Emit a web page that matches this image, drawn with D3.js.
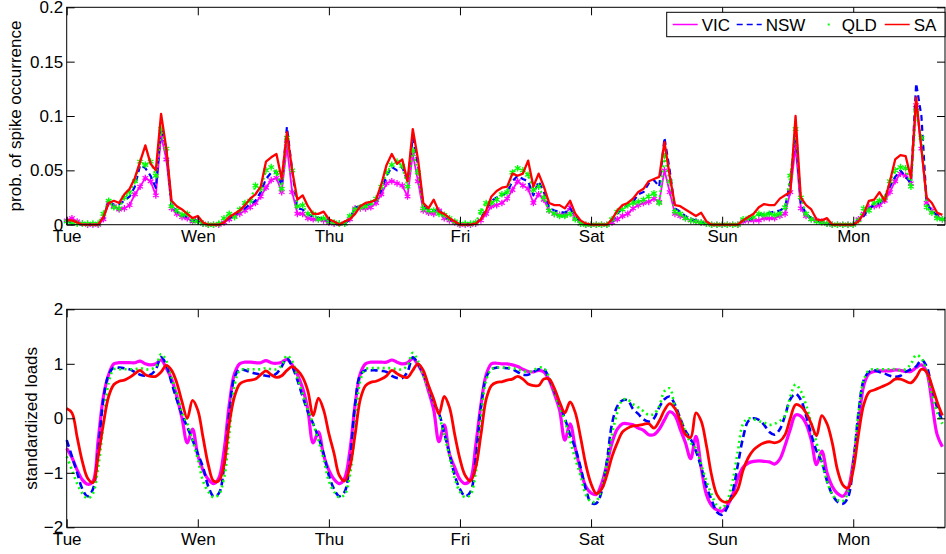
<!DOCTYPE html>
<html>
<head>
<meta charset="utf-8">
<script src="https://cdn.jsdelivr.net/npm/d3@7"></script>
<style>
  body { margin: 0; background: #fff; }
  svg text { font-family: "Liberation Sans", Arial, Helvetica, sans-serif; fill: #000; }
</style>
</head>
<body>
<svg id="chart" width="946" height="554"></svg>
<script>
// tick labels and series names
const dayLabels = ['Tue', 'Wen', 'Thu', 'Fri', 'Sat', 'Sun', 'Mon'];
const seriesNames = ['VIC', 'NSW', 'QLD', 'SA'];

// hourly readings (one line per day), probability of a price spike
const vicSpike = [
  0.004,0.006,0.003,0.001,0,0,0,0.005,0.02,0.017,0.014,0.015,0.018,0.028,0.035,0.043,0.04,0.027,0.082,0.06,0.015,0.01,0.007,0.006,
  0.003,0.004,0.001,0,0,0,0.002,0.005,0.008,0.01,0.013,0.016,0.02,0.026,0.034,0.041,0.043,0.03,0.072,0.03,0.01,0.01,0.006,0.005,
  0.005,0.004,0.002,0.001,0.001,0.001,0.005,0.015,0.015,0.015,0.016,0.02,0.028,0.038,0.04,0.038,0.036,0.026,0.065,0.04,0.013,0.011,0.01,0.013,
  0.006,0.004,0.002,0,0,0,0.001,0.004,0.01,0.017,0.018,0.02,0.024,0.032,0.04,0.036,0.033,0.02,0.028,0.023,0.013,0.01,0.009,0.009,
  0.016,0.006,0.001,0,0,0,0,0,0.002,0.005,0.008,0.01,0.015,0.018,0.02,0.021,0.024,0.021,0.05,0.03,0.01,0.008,0.006,0.004,
  0.003,0.002,0.001,0,0,0,0,0,0,0.003,0.004,0.004,0.004,0.006,0.006,0.006,0.008,0.01,0.03,0.072,0.015,0.008,0.005,0.004,
  0.003,0.001,0,0,0,0,0,0.005,0.01,0.016,0.017,0.018,0.022,0.03,0.04,0.047,0.045,0.038,0.11,0.07,0.02,0.013,0.008,0.005
];
const nswSpike = [
  0.002,0.003,0.001,0,0,0,0,0.006,0.022,0.018,0.019,0.022,0.026,0.035,0.055,0.052,0.045,0.034,0.09,0.07,0.018,0.012,0.009,0.007,
  0.004,0.005,0.001,0,0,0,0.002,0.006,0.009,0.012,0.015,0.019,0.022,0.03,0.042,0.048,0.049,0.036,0.09,0.05,0.015,0.014,0.01,0.007,
  0.006,0.006,0.003,0.001,0,0.001,0.005,0.016,0.017,0.018,0.019,0.022,0.032,0.045,0.053,0.05,0.053,0.04,0.08,0.055,0.018,0.013,0.013,0.015,
  0.007,0.005,0.002,0,0,0,0.001,0.006,0.014,0.022,0.025,0.027,0.03,0.04,0.045,0.042,0.04,0.027,0.04,0.03,0.016,0.013,0.012,0.011,
  0.015,0.007,0.002,0,0,0,0,0,0.003,0.01,0.015,0.018,0.021,0.028,0.03,0.038,0.041,0.035,0.08,0.05,0.015,0.012,0.008,0.005,
  0.004,0.003,0.001,0,0,0,0,0,0,0.004,0.004,0.007,0.009,0.01,0.011,0.012,0.013,0.016,0.04,0.085,0.02,0.01,0.006,0.004,
  0.003,0.001,0,0,0,0,0,0.004,0.008,0.015,0.018,0.02,0.025,0.035,0.044,0.05,0.044,0.038,0.13,0.1,0.02,0.012,0.009,0.006
];
const qldSpike = [
  0.003,0.002,0.001,0.001,0.001,0.001,0.001,0.01,0.022,0.016,0.015,0.025,0.03,0.04,0.058,0.055,0.058,0.045,0.088,0.07,0.017,0.013,0.009,0.01,
  0.004,0.003,0.001,0,0,0.001,0.006,0.01,0.007,0.014,0.02,0.022,0.036,0.033,0.05,0.053,0.048,0.033,0.08,0.05,0.017,0.018,0.01,0.01,
  0.005,0.006,0.003,0.002,0.001,0.001,0.008,0.014,0.016,0.017,0.02,0.024,0.035,0.048,0.055,0.058,0.054,0.035,0.068,0.048,0.015,0.013,0.013,0.01,
  0.009,0.006,0.003,0.001,0.001,0.001,0.002,0.012,0.02,0.02,0.023,0.028,0.03,0.048,0.052,0.05,0.046,0.032,0.035,0.025,0.013,0.01,0.008,0.008,
  0.01,0.005,0.001,0,0,0,0,0,0.005,0.012,0.014,0.018,0.02,0.021,0.023,0.026,0.029,0.02,0.063,0.04,0.012,0.01,0.006,0.004,
  0.003,0.002,0.001,0,0,0,0,0,0,0.005,0.006,0.007,0.01,0.009,0.01,0.009,0.01,0.016,0.045,0.088,0.025,0.01,0.005,0.003,
  0.002,0.001,0,0,0,0,0,0.004,0.015,0.013,0.02,0.022,0.025,0.04,0.05,0.053,0.052,0.035,0.105,0.08,0.016,0.011,0.006,0.005
];
const saSpike = [
  0.004,0.004,0.002,0,0,0,0,0.007,0.02,0.022,0.02,0.028,0.033,0.043,0.058,0.073,0.056,0.05,0.102,0.07,0.022,0.017,0.014,0.01,
  0.006,0.008,0.002,0,0,0,0.002,0.007,0.01,0.013,0.018,0.024,0.028,0.035,0.058,0.062,0.065,0.042,0.085,0.05,0.023,0.027,0.017,0.01,
  0.01,0.012,0.005,0.003,0,0.003,0.005,0.01,0.017,0.02,0.021,0.023,0.037,0.055,0.065,0.056,0.06,0.04,0.088,0.06,0.02,0.015,0.023,0.012,
  0.01,0.006,0.003,0,0,0,0.001,0.005,0.013,0.026,0.031,0.034,0.035,0.047,0.045,0.047,0.059,0.035,0.047,0.035,0.02,0.018,0.018,0.015,
  0.022,0.01,0.004,0.001,0,0,0,0,0.005,0.013,0.018,0.02,0.024,0.03,0.033,0.04,0.042,0.044,0.076,0.045,0.018,0.017,0.014,0.011,
  0.008,0.011,0.003,0,0,0,0,0,0,0.004,0.007,0.01,0.016,0.019,0.018,0.018,0.024,0.027,0.03,0.1,0.025,0.018,0.014,0.005,
  0.004,0.006,0,0,0,0,0,0.003,0.01,0.022,0.023,0.03,0.022,0.04,0.06,0.064,0.063,0.043,0.117,0.07,0.025,0.02,0.011,0.009
];

// hourly standardized loads
const vicLoad = [
  -0.55,-0.72,-0.95,-1.13,-1.21,-1.16,-0.4,0.4,0.8,1.0,1.02,1.02,1.02,1.02,1.05,1.0,0.98,1.0,1.07,0.92,0.72,0.4,0.0,-0.45,
  -0.2,-0.68,-0.95,-1.12,-1.2,-1.1,-0.6,0.25,0.82,1.0,1.03,1.03,1.02,1.02,1.06,1.02,1.01,1.03,1.08,0.98,0.8,0.55,0.15,-0.45,
  -0.25,-0.68,-0.95,-1.12,-1.2,-1.1,-0.6,0.25,0.82,1.0,1.03,1.03,1.03,1.03,1.07,1.03,1.0,1.02,1.1,0.98,0.8,0.5,0.15,-0.43,
  -0.12,-0.66,-0.9,-1.12,-1.2,-1.12,-0.5,0.25,0.8,1.0,1.01,1.0,1.0,0.98,0.95,0.9,0.86,0.85,0.88,0.85,0.7,0.45,0.15,-0.4,
  -0.1,-0.55,-0.95,-1.25,-1.37,-1.4,-1.2,-0.85,-0.45,-0.2,-0.1,-0.1,-0.12,-0.18,-0.22,-0.3,-0.3,-0.2,-0.03,0.12,0.05,-0.2,-0.45,-0.74,
  -0.33,-0.9,-1.4,-1.6,-1.68,-1.7,-1.6,-1.4,-1.1,-0.9,-0.82,-0.79,-0.78,-0.79,-0.8,-0.84,-0.75,-0.5,-0.2,0.06,0.04,-0.1,-0.4,-0.85,
  -0.6,-1.0,-1.25,-1.38,-1.43,-1.3,-0.8,-0.1,0.6,0.82,0.86,0.87,0.87,0.87,0.89,0.88,0.86,0.86,0.93,0.98,0.85,0.3,-0.3,-0.52
];
const nswLoad = [
  -0.4,-0.7,-1.0,-1.3,-1.43,-1.3,-0.6,0.35,0.8,0.93,0.93,0.92,0.9,0.85,0.8,0.78,0.8,0.9,1.12,0.98,0.65,0.34,0.06,-0.16,
  -0.4,-0.65,-0.9,-1.25,-1.43,-1.38,-0.9,0.1,0.75,0.9,0.88,0.85,0.82,0.8,0.78,0.77,0.82,0.95,1.1,0.95,0.7,0.4,0.12,-0.1,
  -0.35,-0.65,-1.05,-1.3,-1.43,-1.35,-0.8,0.25,0.8,0.88,0.88,0.88,0.87,0.85,0.78,0.74,0.74,0.85,1.12,1.0,0.82,0.58,0.28,0.09,
  -0.27,-0.65,-1.05,-1.3,-1.43,-1.35,-0.75,0.2,0.75,0.9,0.93,0.93,0.92,0.9,0.85,0.8,0.8,0.85,0.9,0.9,0.73,0.5,0.25,0.0,
  -0.3,-0.55,-0.9,-1.3,-1.55,-1.56,-1.35,-0.8,-0.1,0.22,0.33,0.33,0.17,0.08,-0.02,-0.06,0.0,0.2,0.35,0.4,0.25,0.0,-0.23,-0.38,
  -0.6,-0.9,-1.25,-1.5,-1.72,-1.77,-1.63,-1.35,-0.85,-0.35,-0.05,0.0,-0.03,-0.12,-0.25,-0.3,-0.2,0.05,0.35,0.45,0.34,0.05,-0.3,-0.6,
  -0.8,-1.15,-1.4,-1.53,-1.57,-1.45,-0.85,0.1,0.7,0.85,0.88,0.85,0.82,0.78,0.76,0.78,0.85,0.9,0.95,1.07,0.95,0.55,0.2,-0.05
];
const qldLoad = [
  -0.7,-0.95,-1.2,-1.38,-1.47,-1.38,-0.9,-0.1,0.65,0.9,0.9,0.9,0.9,0.9,0.92,0.9,0.9,0.95,1.18,1.05,0.75,0.45,0.1,-0.1,
  -0.4,-0.75,-1.15,-1.35,-1.45,-1.4,-1.1,-0.3,0.6,0.88,0.9,0.9,0.9,0.9,0.92,0.9,0.9,0.97,1.15,1.05,0.75,0.45,0.15,-0.1,
  -0.4,-0.75,-1.15,-1.35,-1.45,-1.4,-1.05,-0.2,0.7,0.9,0.92,0.92,0.92,0.92,0.92,0.9,0.9,0.97,1.2,1.05,0.8,0.55,0.3,0.05,
  -0.3,-0.7,-1.1,-1.35,-1.45,-1.4,-1.0,0.0,0.7,0.9,0.93,0.93,0.93,0.92,0.9,0.87,0.85,0.88,0.93,0.92,0.75,0.5,0.2,-0.05,
  -0.4,-0.75,-1.05,-1.4,-1.53,-1.52,-1.3,-0.85,-0.3,0.1,0.34,0.34,0.26,0.2,0.13,0.06,0.08,0.22,0.5,0.55,0.21,0.0,-0.25,-0.45,
  -0.55,-0.85,-1.15,-1.4,-1.6,-1.65,-1.5,-1.15,-0.6,-0.1,0.0,-0.02,-0.05,-0.08,-0.12,-0.1,-0.05,0.05,0.4,0.62,0.5,0.25,-0.1,-0.45,
  -0.8,-1.15,-1.4,-1.5,-1.52,-1.35,-0.85,0.1,0.7,0.88,0.9,0.9,0.9,0.9,0.9,0.88,0.9,1.0,1.16,1.1,0.85,0.45,0.1,-0.1
];
const saLoad = [
  0.18,0.1,-0.35,-0.8,-1.1,-1.18,-0.7,-0.1,0.4,0.62,0.68,0.7,0.75,0.82,0.88,0.8,0.77,0.77,0.85,0.97,0.88,0.65,0.3,0.0,
  0.33,0.15,-0.35,-0.85,-1.15,-1.15,-0.85,-0.1,0.4,0.63,0.68,0.7,0.72,0.8,0.87,0.8,0.75,0.78,0.88,0.95,0.88,0.75,0.5,0.05,
  0.37,0.15,-0.28,-0.65,-1.05,-1.15,-0.9,-0.3,0.35,0.6,0.66,0.68,0.72,0.78,0.88,0.82,0.77,0.75,0.88,1.0,0.88,0.6,0.35,0.08,
  0.4,0.2,-0.3,-0.75,-1.05,-1.15,-0.9,-0.3,0.35,0.6,0.66,0.67,0.7,0.72,0.77,0.72,0.63,0.6,0.6,0.72,0.72,0.55,0.3,0.1,
  0.3,0.1,-0.35,-0.85,-1.2,-1.38,-1.3,-1.05,-0.7,-0.45,-0.25,-0.18,-0.14,-0.13,-0.11,-0.1,-0.18,-0.05,0.15,0.27,0.18,-0.05,-0.3,-0.35,
  0.1,-0.05,-0.5,-1.05,-1.4,-1.52,-1.54,-1.45,-1.3,-0.95,-0.72,-0.58,-0.5,-0.45,-0.43,-0.45,-0.42,-0.3,0.0,0.25,0.22,0.1,-0.1,-0.32,
  0.05,-0.1,-0.45,-0.95,-1.22,-1.28,-0.95,-0.3,0.25,0.48,0.52,0.56,0.6,0.65,0.72,0.72,0.68,0.65,0.75,0.9,0.85,0.6,0.3,0.05
];

const spikeTicks = [0, 0.05, 0.1, 0.15, 0.2];
const loadTicks = [-2, -1, 0, 1, 2];

const svg = d3.select('#chart');
const left = 66.7, right = 945;
const colors = ['#ff00ff', '#0000ff', '#00ff00', '#ff0000'];
const fontSize = 17;

// x runs over half-hour samples 1..336; ticks every 50 samples
const x = d3.scaleLinear().domain([1, 336]).range([left, right]);
const hourIdx = k => 2 * k + 1;
const tickIdx = dayLabels.map((d, i) => 1 + 50 * i);

function drawPanel(cfg) {
  const y = d3.scaleLinear().domain(cfg.domain).range([cfg.bottom, cfg.top]);
  const g = svg.append('g');

  const line = d3.line()
    .x((d, k) => x(hourIdx(k)))
    .y(d => y(d))
    .curve(cfg.curve);

  cfg.series.forEach((vals, i) => {
    const st = cfg.styles[i];
    g.append('path')
      .datum(vals)
      .attr('d', line)
      .attr('fill', 'none')
      .attr('stroke', colors[i])
      .attr('stroke-width', st.w)
      .attr('stroke-dasharray', st.dash || null)
      .attr('stroke-linejoin', 'round');
    if (st.marker) {
      g.append('g').selectAll('path')
        .data(vals)
        .join('path')
        .attr('transform', (d, k) => `translate(${x(hourIdx(k))},${y(d)})`)
        .attr('d', d3.symbol(d3.symbolAsterisk, st.marker))
        .attr('fill', 'none')
        .attr('stroke', colors[i])
        .attr('stroke-width', 1.3);
    }
  });

  // frame
  g.append('rect')
    .attr('x', left).attr('y', cfg.top)
    .attr('width', right - left).attr('height', cfg.bottom - cfg.top)
    .attr('fill', 'none').attr('stroke', '#000').attr('stroke-width', 1);

  const tidy = sel => {
    sel.select('.domain').remove();
    sel.attr('font-size', fontSize).attr('font-family', null);
    sel.selectAll('line').attr('stroke', '#000');
  };

  g.append('g').attr('transform', `translate(${left},0)`)
    .call(d3.axisLeft(y).tickValues(cfg.ticks).tickFormat(cfg.fmt)
      .tickSizeInner(-8).tickSizeOuter(0).tickPadding(3.5))
    .call(tidy);
  g.append('g').attr('transform', `translate(${right},0)`)
    .call(d3.axisRight(y).tickValues(cfg.ticks).tickFormat('')
      .tickSizeInner(-8).tickSizeOuter(0))
    .call(tidy);
  g.append('g').attr('transform', `translate(0,${cfg.top})`)
    .call(d3.axisTop(x).tickValues(tickIdx).tickFormat('')
      .tickSizeInner(-8).tickSizeOuter(0))
    .call(tidy);
  g.append('g').attr('transform', `translate(0,${cfg.bottom})`)
    .call(d3.axisBottom(x).tickValues(tickIdx).tickFormat((d, i) => dayLabels[i])
      .tickSizeInner(-8).tickSizeOuter(0).tickPadding(5.5))
    .call(tidy);

  g.append('text')
    .attr('transform', `translate(${cfg.labelX},${(cfg.top + cfg.bottom) / 2}) rotate(-90)`)
    .attr('text-anchor', 'middle')
    .attr('font-size', fontSize)
    .text(cfg.label);
}

drawPanel({
  top: 7.3, bottom: 224.7,
  domain: [0, 0.2], ticks: spikeTicks, fmt: d3.format('~g'),
  label: 'prob. of spike occurrence', labelX: 21,
  series: [vicSpike, nswSpike, qldSpike, saSpike],
  curve: d3.curveLinear,
  styles: [
    { w: 1.8, marker: 30 },
    { w: 2.2, dash: '6,4' },
    { w: 2.2, dash: '2,3', marker: 30 },
    { w: 2.3 }
  ]
});

drawPanel({
  top: 309.3, bottom: 527.3,
  domain: [-2, 2], ticks: loadTicks, fmt: d3.format('d'),
  label: 'standardized loads', labelX: 36.5,
  series: [vicLoad, nswLoad, qldLoad, saLoad],
  curve: d3.curveCatmullRom,
  styles: [
    { w: 3.2 },
    { w: 2.6, dash: '7,4' },
    { w: 2.6, dash: '2,3.5' },
    { w: 2.8 }
  ]
});

// legend
const legend = svg.append('g').attr('transform', 'translate(666.7,12.3)');
legend.append('rect')
  .attr('width', right - 666.7).attr('height', 24.4)
  .attr('fill', '#fff').attr('stroke', '#000').attr('stroke-width', 1);
const legendX = [6, 70, 146, 218];
seriesNames.forEach((name, i) => {
  const lx = legendX[i];
  legend.append('line')
    .attr('x1', lx).attr('x2', lx + 25)
    .attr('y1', 12.2).attr('y2', 12.2)
    .attr('stroke', colors[i]).attr('stroke-width', i === 2 ? 2 : 1.5)
    .attr('stroke-dasharray', i === 2 ? '2,30' : (i === 1 ? '6,4' : null))
    .attr('stroke-dashoffset', i === 2 ? -15 : null);
  legend.append('text')
    .attr('x', lx + 29).attr('y', 12.2).attr('dy', '0.36em')
    .attr('font-size', fontSize)
    .text(name);
});
</script>
</body>
</html>
